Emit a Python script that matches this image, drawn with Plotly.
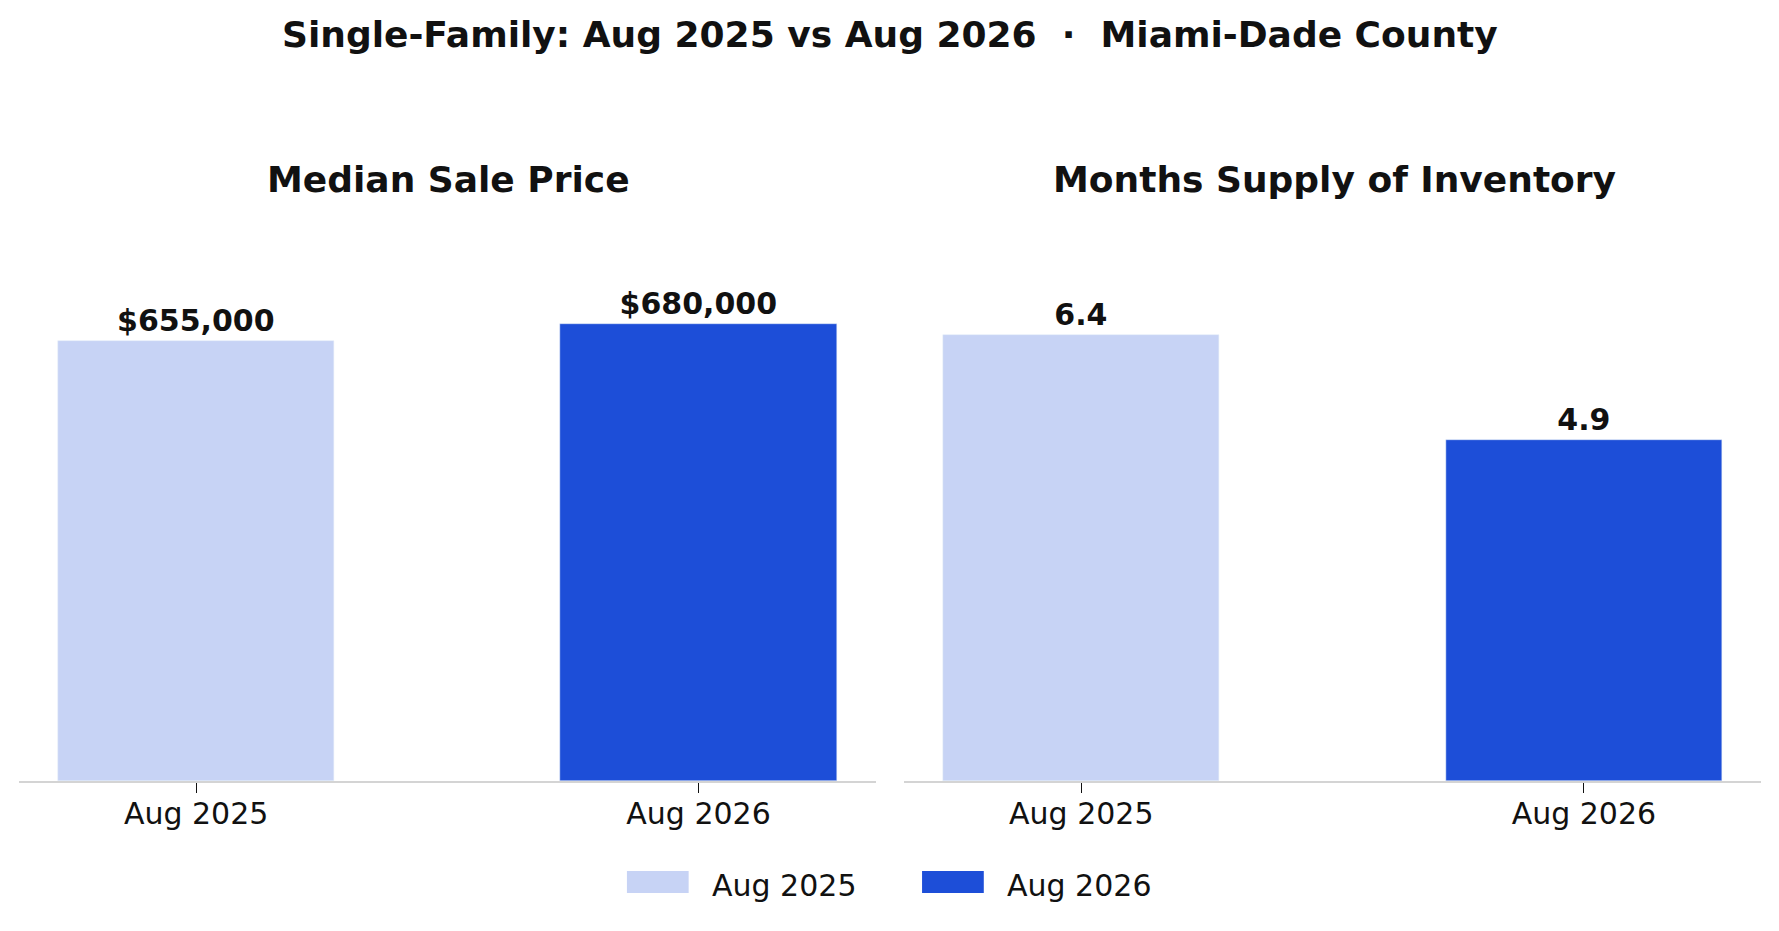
import plotly.graph_objects as go

periods = ["Aug 2025", "Aug 2026"]
median_price = [655000, 680000]
months_supply = [6.4, 4.9]

light = "#c7d3f5"
dark = "#1d4ed8"
colors = [light, dark]
font = "DejaVu Sans"

fig = go.Figure()

# one trace per period on each panel
for i, p in enumerate(periods):
    fig.add_trace(go.Bar(
        x=[p], y=[median_price[i]], name=p, marker_color=colors[i],
        width=0.55, showlegend=False,
        texttemplate="$%{y:,.0f}", textposition="outside", cliponaxis=False,
        textfont=dict(family=font, size=30, color="#111111", weight="bold"),
        xaxis="x", yaxis="y", hoverinfo="skip"))
    fig.add_trace(go.Bar(
        x=[p], y=[months_supply[i]], name=p, marker_color=colors[i],
        width=0.55, showlegend=False,
        texttemplate="%{y:.1f}", textposition="outside", cliponaxis=False,
        textfont=dict(family=font, size=30, color="#111111", weight="bold"),
        xaxis="x2", yaxis="y2", hoverinfo="skip"))

xax = dict(type="category", range=[-0.3525, 1.3525], showline=True,
           linecolor="#d4d4d4", linewidth=2, ticks="outside", ticklen=10,
           tickwidth=1.4, tickcolor="#111111", showgrid=False, zeroline=False,
           ticklabelstandoff=-5,
           tickfont=dict(family=font, size=30, color="#111111"),
           categoryorder="array", categoryarray=periods)

annotations = [
    dict(text="<b>Single-Family: Aug 2025 vs Aug 2026 \u00a0·\u00a0 Miami-Dade County</b>",
         x=0.5, y=0.963, xref="paper", yref="paper", showarrow=False,
         xanchor="center", yanchor="middle", font=dict(family=font, size=36)),
    dict(text="<b>Median Sale Price</b>", x=0.2523, y=0.8067, xref="paper",
         yref="paper", showarrow=False, xanchor="center", yanchor="middle",
         font=dict(family=font, size=36)),
    dict(text="<b>Months Supply of Inventory</b>", x=0.7504, y=0.8067, xref="paper",
         yref="paper", showarrow=False, xanchor="center", yanchor="middle",
         font=dict(family=font, size=36)),
]

# legend drawn by hand so the swatches can be wide rectangles
shapes = []
swatch_x = [0.3524, 0.5183]
for i, p in enumerate(periods):
    x0 = swatch_x[i]
    shapes.append(dict(type="rect", xref="paper", yref="paper",
                       x0=x0, x1=x0 + 0.0347, y0=0.0408, y1=0.0644,
                       fillcolor=colors[i], line=dict(width=0)))
    annotations.append(dict(text=p, x=x0 + 0.0468, y=0.0494, xref="paper",
                            yref="paper", showarrow=False, xanchor="left",
                            yanchor="middle",
                            font=dict(family=font, size=30, color="#111111")))

fig.update_layout(
    width=1779, height=931,
    margin=dict(l=0, r=0, t=0, b=0),
    paper_bgcolor="white", plot_bgcolor="white",
    barmode="overlay", bargap=0, showlegend=False,
    font=dict(family=font, color="#111111"),
    xaxis=dict(xax, domain=[0.0107, 0.4922], anchor="y"),
    xaxis2=dict(xax, domain=[0.5082, 0.9899], anchor="y2"),
    yaxis=dict(domain=[0.161, 0.753], range=[0, 820000], visible=False),
    yaxis2=dict(domain=[0.161, 0.753], range=[0, 7.905], visible=False),
    annotations=annotations,
    shapes=shapes,
)

fig.write_html("out.html", config={"displayModeBar": False},
               post_script="document.body.style.margin='0';")
